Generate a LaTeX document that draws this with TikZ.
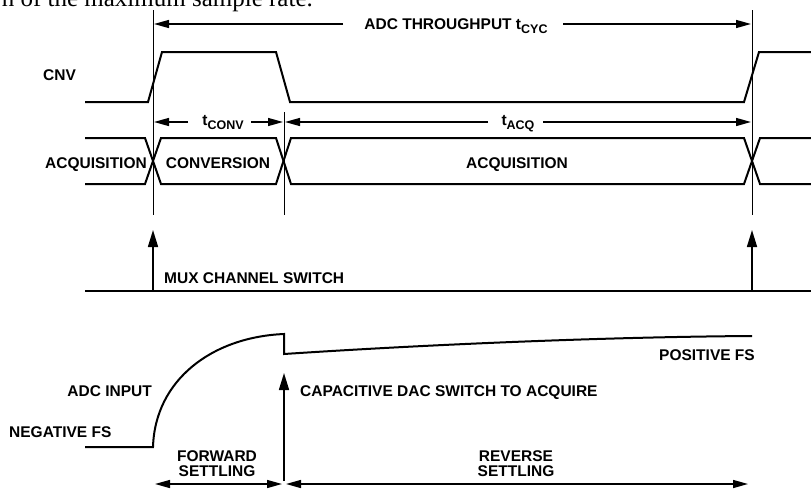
\documentclass[tikz,border=0pt]{standalone}
\usepackage{fontspec}
\setmainfont{Liberation Sans}
\newfontfamily\serifpart{Liberation Serif}
\usetikzlibrary{arrows.meta}
\newcommand{\mysubs}[1]{{\fontsize{12.5}{13}\selectfont\raisebox{-4pt}{#1}}}
\begin{document}
\begin{tikzpicture}[x=1pt,y=-1pt,
  sig/.style={line width=2pt, line join=miter},
  refline/.style={line width=0.8pt},
  dim/.style={line width=1.4pt, -{Triangle[length=15pt,width=8pt]}},
  dimboth/.style={line width=1.4pt, {Triangle[length=15pt,width=8pt]}-{Triangle[length=15pt,width=8pt]}},
  uparrow/.style={line width=1.6pt, -{Triangle[length=17pt,width=10pt]}},
  lbl/.style={font=\fontsize{15.5}{17}\selectfont\bfseries, inner sep=0pt},
]
\useasboundingbox (0,0) rectangle (811,490);

% cut-off caption text at the very top
\begin{scope}
\clip (0,0) rectangle (811,490);
\node[anchor=base east, inner sep=0pt, font=\serifpart\fontsize{25}{27}\selectfont] (cap) at (313,6) {n of the maximum sample rate.};
\end{scope}

% reference lines
\coordinate (r1t) at (153,10);  \coordinate (r1b) at (153,215);
\coordinate (r2t) at (284,112); \coordinate (r2b) at (284,215);
\coordinate (r3t) at (752,10);  \coordinate (r3b) at (752,215);
\draw[refline] (r1t) -- (r1b);
\draw[refline] (r2t) -- (r2b);
\draw[refline] (r3t) -- (r3b);

% CNV signal
\draw[sig] (85,102) -- (148,102) -- (162,52) -- (276,52) -- (290,102) -- (744,102) -- (759,52) -- (811,52);
\node[lbl, anchor=base] (cnv) at (59.5,80) {CNV};

% throughput
\node[lbl, anchor=base] (tput) at (456,29) {ADC THROUGHPUT t\mysubs{CYC}};
\coordinate (tpl) at (343,24); \coordinate (tpla) at (154,24);
\coordinate (tpr) at (563,24); \coordinate (tpra) at (751,24);
\draw[dim] (tpl) -- (tpla);
\draw[dim] (tpr) -- (tpra);

% tCONV and tACQ
\node[lbl, anchor=base] (tconv) at (223,125) {t\mysubs{CONV}};
\coordinate (tcl) at (188,122); \coordinate (tcla) at (154,122);
\coordinate (tcr) at (251,122); \coordinate (tcra) at (283,122);
\draw[dim] (tcl) -- (tcla);
\draw[dim] (tcr) -- (tcra);
\node[lbl, anchor=base] (tacq) at (518,125) {t\mysubs{ACQ}};
\coordinate (tal) at (488,122); \coordinate (tala) at (285,122);
\coordinate (tar) at (543,122); \coordinate (tara) at (751,122);
\draw[dim] (tal) -- (tala);
\draw[dim] (tar) -- (tara);

% bus
\draw[sig] (85,138) -- (145,138) -- (161,184) -- (276,184) -- (291,138) -- (744,138) -- (760,184) -- (811,184);
\draw[sig] (85,184) -- (145,184) -- (161,138) -- (276,138) -- (291,184) -- (744,184) -- (760,138) -- (811,138);
\node[lbl, anchor=base east] (acq1) at (147,168) {ACQUISITION};
\node[lbl, anchor=base] (conv) at (218,168) {CONVERSION};
\node[lbl, anchor=base] (acq2) at (517,168) {ACQUISITION};

% MUX
\coordinate (mux0) at (85,291); \coordinate (mux1) at (811,291);
\draw[sig] (mux0) -- (mux1);
\coordinate (m1b) at (153,291); \coordinate (m1t) at (153,230);
\coordinate (m2b) at (752,291); \coordinate (m2t) at (752,230);
\draw[uparrow] (m1b) -- (m1t);
\draw[uparrow] (m2b) -- (m2t);
\node[lbl, anchor=base west] (mux) at (164,283) {MUX CHANNEL SWITCH};

% ADC input
\draw[sig] (85,447) -- (153,447) .. controls (155,380) and (212,337) .. (284,334) -- (284,354)
  .. controls (420,345) and (600,337) .. (752,336);
\node[lbl, anchor=base east] (adcin) at (152,396) {ADC INPUT};
\node[lbl, anchor=base west] (negfs) at (9,437) {NEGATIVE FS};
\node[lbl, anchor=base east] (posfs) at (755,360) {POSITIVE FS};
\node[lbl, anchor=base west] (capdac) at (300,396) {CAPACITIVE DAC SWITCH TO ACQUIRE};
\coordinate (cb) at (284,481); \coordinate (ct) at (284,373);
\draw[uparrow] (cb) -- (ct);

% settling
\node[lbl, anchor=base] (fwd1) at (217,461) {FORWARD};
\node[lbl, anchor=base] (fwd2) at (217,476) {SETTLING};
\node[lbl, anchor=base] (rev1) at (516,461) {REVERSE};
\node[lbl, anchor=base] (rev2) at (516,476) {SETTLING};
\coordinate (f0) at (155,484); \coordinate (f1) at (282,484);
\coordinate (v0) at (286,484); \coordinate (v1) at (748,484);
\draw[dimboth] (f0) -- (f1);
\draw[dimboth] (v0) -- (v1);
\end{tikzpicture}
\end{document}
